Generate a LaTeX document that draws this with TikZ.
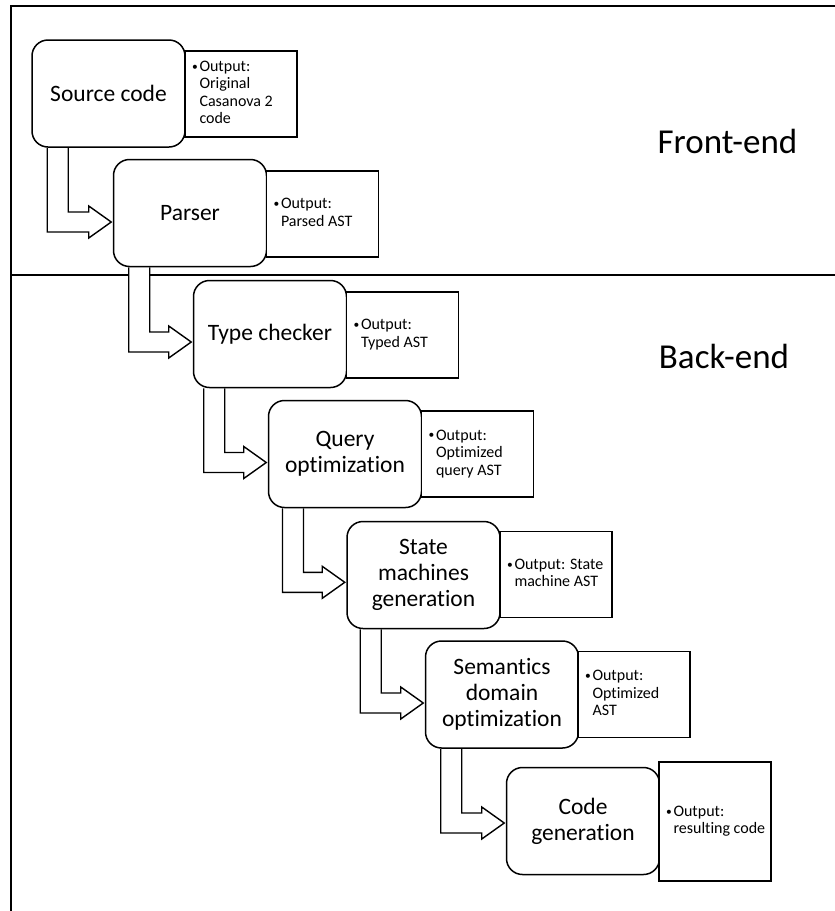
\documentclass[tikz,border=0pt]{standalone}
\usepackage{graphicx}
\usepackage{fontspec}
\setmainfont{Carlito}[Ligatures=NoCommon]
\usetikzlibrary{calc,backgrounds}

% bulleted output list, hanging under the bullet
\newcommand\outbullet{\hspace*{-0.5pt}\raisebox{1.2pt}{\scalebox{0.72}{\textbullet}}}
\newcommand\outlines[1]{\makebox[97pt][l]{\makebox[7pt][l]{\outbullet}\begin{tabular}[t]{@{}l@{}}#1\end{tabular}}}

% hollow bent arrow from the bottom of one stage into the left side of the next
% #1 upper stage, #2 lower stage, #3 shaft offset from the upper stage's left edge,
% #4 how far the tip sits below the lower stage's centre
\newcommand\stagearrow[4]{%
  \draw[flowarrow] let \p1=(#1.south west), \p2=(#2.west) in
    (\x1+#3pt,\y1)
    -- (\x1+#3pt,\y2-#4pt-10pt)
    -- (\x2-24pt,\y2-#4pt-10pt)
    -- (\x2-24pt,\y2-#4pt-16pt)
    -- (\x2-1.5pt,\y2-#4pt)
    -- (\x2-24pt,\y2-#4pt+16pt)
    -- (\x2-24pt,\y2-#4pt+10pt)
    -- (\x1+#3pt+21pt,\y2-#4pt+10pt)
    -- (\x1+#3pt+21pt,\y1);
}

\tikzset{
  stage/.style={draw, line width=1.5pt, rounded corners=16pt, fill=white,
    minimum width=153pt, minimum height=107pt, inner sep=0pt, align=center,
    font=\fontsize{23.5}{26}\selectfont},
  outbox/.style={draw, line width=1.5pt, fill=white, minimum width=112pt,
    minimum height=86pt, inner sep=0pt, font=\fontsize{16}{17.5}\selectfont},
  flowarrow/.style={line width=1.4pt, fill=white, line join=miter},
  frameline/.style={line width=1.6pt},
  phase/.style={font=\fontsize{35}{40}\selectfont, inner sep=0pt}
}

\begin{document}
\begin{tikzpicture}[x=1pt, y=-1pt]
\useasboundingbox (0,0) rectangle (835,911);

% stages
\node[stage] (src) at (108.5,93.5) {Source code};
\node[stage] (parse) at (190,213) {Parser};
\node[stage] (tc) at (270,334) {Type checker};
\node[stage] (qo) at (345,454) {Query\\optimization};
\node[stage] (smg) at (423.5,575) {State\\machines\\generation};
\node[stage] (sdo) at (502,694.5) {Semantics\\domain\\optimization};
\node[stage] (cg) at (583,821) {Code\\generation};

% outputs of each stage
\node[outbox] (osrc) at (241,94) {\outlines{Output:\\Original\\Casanova 2\\code}};
\node[outbox] (oparse) at (322.5,214) {\outlines{Output:\\Parsed AST}};
\node[outbox] (otc) at (402.5,335) {\outlines{Output:\\Typed AST}};
\node[outbox] (oqo) at (477.5,454) {\outlines{Output:\\Optimized\\query AST}};
\node[outbox] (osmg) at (556,574.5) {\outlines{Output: State\\machine AST}};
\node[outbox] (osdo) at (634,694.5) {\outlines{Output:\\Optimized\\AST}};
\node[outbox, minimum height=119pt] (ocg) at (715,821.5) {\outlines{Output:\\resulting code}};

% phase labels
\node[phase, anchor=base] (fe) at (727.5,153.3) {Front-end};
\node[phase, anchor=base] (be) at (724,368) {Back-end};

\begin{pgfonlayer}{background}
  % frame and the front-end / back-end divider
  \draw[frameline] (11,911) -- (11,6) -- (835,6);
  \draw[frameline] (11,275) -- (835,275);
  % flow between stages
  \stagearrow{src}{parse}{16}{9}
  \stagearrow{parse}{tc}{16}{8}
  \stagearrow{tc}{qo}{11}{8.5}
  \stagearrow{qo}{smg}{14.7}{7.3}
  \stagearrow{smg}{sdo}{14}{8.5}
  \stagearrow{sdo}{cg}{16}{2}
\end{pgfonlayer}
\end{tikzpicture}
\end{document}
